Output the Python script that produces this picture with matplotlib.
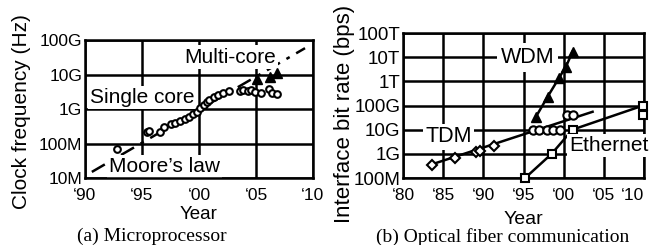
import numpy as np
import matplotlib.pyplot as plt
from matplotlib.ticker import NullLocator

plt.rcParams['font.family'] = ['Liberation Sans', 'DejaVu Sans']

# (a) microprocessor clock
cpu_year = [1992.8, 1995.4, 1995.6, 1996.6, 1996.9, 1997.5, 1997.9, 1998.3, 1998.8,
            1999.1, 1999.5, 1999.8, 2000.1, 2000.4, 2000.7, 2000.9, 2001.3, 2001.7,
            2002.1, 2002.6, 2003.6, 2003.9, 2004.3, 2004.6, 2004.9, 2005.4, 2006.1,
            2006.4, 2006.8]
cpu_hz = [68e6, 210e6, 235e6, 220e6, 310e6, 370e6, 400e6, 455e6, 510e6,
          575e6, 710e6, 830e6, 1.05e9, 1.3e9, 1.6e9, 1.8e9, 2.3e9, 2.6e9,
          2.95e9, 3.4e9, 3.4e9, 3.55e9, 3.3e9, 3.5e9, 3.2e9, 2.95e9, 3.7e9,
          2.95e9, 2.8e9]
multi_year = [2005.1, 2006.2, 2006.8]
multi_hz = [7.2e9, 8.7e9, 11e9]
moore_year = [1990.6, 2009.3]
moore_hz = [1.5e7, 5.8e10]

cpu_xticks = [1990, 1995, 2000, 2005, 2010]
cpu_xlabels = ['\u201890', '\u201895', '\u201800', '\u201805', '\u201810']
cpu_yticks = [1e7, 1e8, 1e9, 1e10, 1e11]
cpu_ylabels = ['10M', '100M', '1G', '10G', '100G']

# (b) optical fiber
tdm_year = [1983.6, 1986.5, 1989.1, 1989.6, 1991.3]
tdm_bps = [350e6, 650e6, 1.2e9, 1.35e9, 2.2e9]
tdm2_year = [1996.2, 1996.9, 1997.9, 1998.7, 1999.5, 2000.4, 2001.1]
tdm2_bps = [10e9, 10e9, 10e9, 10e9, 10e9, 40e9, 40e9]
tdm_fit_year = [1983.4, 2003.6]
tdm_fit_bps = [3.5e8, 5.5e10]
wdm_year = [1996.5, 1998.0, 1999.4, 2000.3, 2001.1]
wdm_bps = [32e9, 230e9, 1.35e12, 4.1e12, 17e12]
eth_year = [1995.2, 1998.5, 2001.1, 2009.9]
eth_bps = [100e6, 1e9, 10e9, 100e9]
eth_extra_year = [2009.9]
eth_extra_bps = [40e9]

fib_xticks = [1980, 1985, 1990, 1995, 2000, 2005, 2010]
fib_xlabels = ['\u201880', '\u201885', '\u201890', '\u201895', '\u201800', '\u201805', '\u201810']
fib_yticks = [1e8, 1e9, 1e10, 1e11, 1e12, 1e13, 1e14]
fib_ylabels = ['100M', '1G', '10G', '100G', '1T', '10T', '100T']

fig = plt.figure(figsize=(6.52, 2.45), dpi=100)
ax1 = fig.add_axes([85/652, 1-178/245, 228/652, 138/245])
ax2 = fig.add_axes([403/652, 1-178/245, 241/652, 145/245])

box = dict(facecolor='white', edgecolor='none', pad=1.5)


def style(ax, xt, xl, yt, yl, xfs, yfs):
    ax.set_yscale('log')
    ax.set_xticks(xt)
    ax.set_xticklabels(xl, fontsize=xfs)
    ax.set_yticks(yt)
    ax.set_yticklabels(yl, fontsize=yfs)
    ax.yaxis.set_minor_locator(NullLocator())
    ax.set_xlim(xt[0], xt[-1])
    ax.set_ylim(yt[0], yt[-1])
    ax.tick_params(length=0, pad=2)
    ax.tick_params(axis='x', pad=7)
    ax.grid(color='black', linewidth=1.8)
    ax.set_axisbelow(True)
    for s in ax.spines.values():
        s.set_linewidth(1.8)


# Panel (a)
style(ax1, cpu_xticks, cpu_xlabels, cpu_yticks, cpu_ylabels, 12.5, 12.5)
ax1.plot(moore_year, moore_hz, color='black', lw=1.8, dashes=[6, 3, 1.5, 3], zorder=2)
ax1.plot(cpu_year, cpu_hz, 'o', ms=4.8, mfc='white', mec='black', mew=1.5, zorder=3)
ax1.plot(multi_year, multi_hz, '^', ms=6.5, color='black', zorder=3)
ax1.text(2002.7, 3.2e10, 'Multi-core', fontsize=15, ha='center', va='center', bbox=box, zorder=2.4)
ax1.text(1995.0, 2.2e9, 'Single core', fontsize=15, ha='center', va='center', bbox=box, zorder=2.4)
ax1.text(1997.0, 2.1e7, 'Moore\u2019s law', fontsize=15, ha='center', va='center', bbox=box, zorder=2.4)
ax1.set_xlabel('Year', fontsize=13.5)
ax1.set_ylabel('Clock frequency (Hz)', fontsize=15)
ax1.xaxis.set_label_coords(0.5, -0.2)
ax1.yaxis.set_label_coords(-0.235, 0.48)

# Panel (b)
style(ax2, fib_xticks, fib_xlabels, fib_yticks, fib_ylabels, 12.5, 13.5)
ax2.plot(tdm_fit_year, tdm_fit_bps, color='black', lw=1.8, zorder=2)
ax2.plot(tdm_year, tdm_bps, 'D', ms=5, mfc='white', mec='black', mew=1.5, zorder=3)
ax2.plot(tdm2_year, tdm2_bps, 'o', ms=6, mfc='white', mec='black', mew=1.5, zorder=3)
ax2.plot(wdm_year, wdm_bps, '^-', ms=7, color='black', lw=1.8, zorder=3)
ax2.plot(eth_year, eth_bps, 's-', ms=5.5, mfc='white', mec='black', color='black',
         mew=1.5, lw=1.8, zorder=3, clip_on=False)
ax2.plot(eth_extra_year, eth_extra_bps, 's', ms=5.5, mfc='white', mec='black', mew=1.5,
         zorder=3, clip_on=False)
ax2.text(1995.5, 1e13, 'WDM', fontsize=15.5, ha='center', va='center',
         bbox=dict(facecolor='white', edgecolor='none', pad=3), zorder=2.4)
ax2.text(1985.7, 5e9, 'TDM', fontsize=15.5, ha='center', va='center', bbox=box, zorder=2.4)
ax2.text(2005.6, 2.3e9, 'Ethernet', fontsize=15, ha='center', va='center', bbox=box,
         zorder=5, clip_on=False)
ax2.set_xlabel('Year', fontsize=14)
ax2.set_ylabel('Interface bit rate (bps)', fontsize=16)
ax2.xaxis.set_label_coords(0.5, -0.23)
ax2.yaxis.set_label_coords(-0.2, 0.44)

# shift the last tick label left a little so it stays inside the image
last = ax2.get_xticklabels()[-1]
last.set_horizontalalignment('right')
last.set_x(2010.6)

fig.text(152/652, 1-236/245, '(a) Microprocessor', family='Liberation Serif',
         fontsize=14, ha='center', va='center')
fig.text(503/652, 1-237/245, '(b) Optical fiber communication', family='Liberation Serif',
         fontsize=14, ha='center', va='center')

fig.savefig('out.png', dpi=100)
